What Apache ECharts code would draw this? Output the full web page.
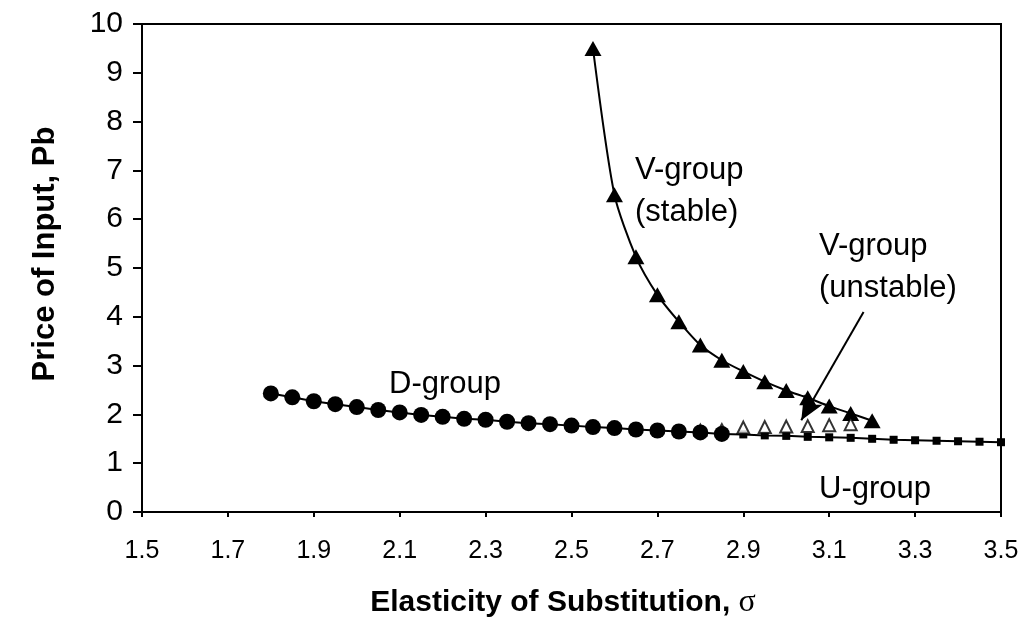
<!DOCTYPE html>
<html>
<head>
<meta charset="utf-8">
<script src="https://cdn.jsdelivr.net/npm/echarts@6/dist/echarts.min.js"></script>
<style>
  html, body { margin: 0; padding: 0; background: #fff; }
  #output { width: 1029px; height: 635px; }
</style>
</head>
<body>
<div id="output"></div>
<script>
const chart = echarts.init(document.getElementById('output'))

// sigma values and Pb
const dX = [1.8, 1.85, 1.9, 1.95, 2.0, 2.05, 2.1, 2.15, 2.2, 2.25, 2.3, 2.35, 2.4, 2.45, 2.5, 2.55, 2.6, 2.65, 2.7, 2.75, 2.8, 2.85]
const dY = [2.43, 2.35, 2.27, 2.21, 2.15, 2.09, 2.04, 1.99, 1.95, 1.91, 1.89, 1.85, 1.82, 1.80, 1.77, 1.74, 1.72, 1.69, 1.67, 1.65, 1.63, 1.60]

const uX = [2.85, 2.9, 2.95, 3.0, 3.05, 3.1, 3.15, 3.2, 3.25, 3.3, 3.35, 3.4, 3.45, 3.5]
const uY = [1.60, 1.59, 1.57, 1.56, 1.54, 1.53, 1.52, 1.50, 1.48, 1.47, 1.46, 1.45, 1.44, 1.43]

const vStableX = [2.55, 2.6, 2.65, 2.7, 2.75, 2.8, 2.85, 2.9, 2.95, 3.0, 3.05, 3.1, 3.15, 3.2]
const vStableY = [9.5, 6.5, 5.23, 4.45, 3.9, 3.42, 3.11, 2.88, 2.67, 2.49, 2.34, 2.17, 2.02, 1.87]

const vJoinX = [2.8, 2.85]
const vJoinY = [1.69, 1.70]

const vUnstableX = [2.9, 2.95, 3.0, 3.05, 3.1, 3.15]
const vUnstableY = [1.73, 1.74, 1.75, 1.76, 1.78, 1.80]

const xTicks = { min: 1.5, max: 3.5, step: 0.2 }
const yTicks = { min: 0, max: 10, step: 1 }

// annotation arrow, in data units
const arrowFrom = [3.18, 4.1]
const arrowTo = [3.035, 1.88]

const zip = (xs, ys) => xs.map((x, i) => [x, ys[i]])

const font = '"Liberation Sans", Arial, sans-serif'

function note (text, left, top) {
  return {
    type: 'text',
    left,
    top,
    style: { text, font: '31px ' + font, fill: '#000', lineHeight: 42 }
  }
}

chart.setOption({
  animation: false,
  grid: {
    left: 142,
    right: 28,
    top: 24,
    bottom: 123,
    show: true,
    borderColor: '#000',
    borderWidth: 2
  },
  xAxis: {
    type: 'value',
    min: xTicks.min,
    max: xTicks.max,
    interval: xTicks.step,
    axisLine: { onZero: false, lineStyle: { color: '#000', width: 2 } },
    axisTick: { length: 5, lineStyle: { color: '#000', width: 2 } },
    axisLabel: {
      color: '#000',
      fontFamily: font,
      fontSize: 25,
      margin: 27,
      formatter: v => v.toFixed(1)
    },
    splitLine: { show: false }
  },
  yAxis: {
    type: 'value',
    min: yTicks.min,
    max: yTicks.max,
    interval: yTicks.step,
    axisLine: { show: true, lineStyle: { color: '#000', width: 2 } },
    axisTick: { show: true, length: 9, lineStyle: { color: '#000', width: 2 } },
    axisLabel: { color: '#000', fontFamily: font, fontSize: 30, margin: 19 },
    splitLine: { show: false }
  },
  graphic: [
    note('D-group', 389, 363),
    note('V-group\n(stable)', 635, 149),
    note('V-group\n(unstable)', 819, 225),
    note('U-group', 819, 468),
    {
      type: 'text',
      x: 563,
      y: 603,
      style: {
        text: '{b|Elasticity of Substitution, }{s|σ}',
        fill: '#000',
        align: 'center',
        verticalAlign: 'middle',
        rich: {
          b: { fontFamily: font, fontWeight: 'bold', fontSize: 30, fill: '#000' },
          s: { fontFamily: '"Liberation Serif", "DejaVu Serif", serif', fontSize: 32, fill: '#000' }
        }
      }
    },
    {
      type: 'text',
      x: 45,
      y: 254,
      rotation: Math.PI / 2,
      style: {
        text: 'Price of Input, Pb',
        font: 'bold 31px ' + font,
        fill: '#000',
        align: 'center',
        verticalAlign: 'middle'
      }
    }
  ],
  series: [
    {
      name: 'U-group',
      type: 'line',
      data: zip(uX, uY),
      symbol: 'rect',
      symbolSize: 8,
      itemStyle: { color: '#000' },
      lineStyle: { color: '#000', width: 2 },
      z: 2
    },
    {
      name: 'V-group (stable)',
      type: 'line',
      smooth: 0.25,
      data: zip(vStableX, vStableY),
      symbol: 'triangle',
      symbolSize: [17, 15],
      itemStyle: { color: '#000' },
      lineStyle: { color: '#000', width: 2 },
      z: 3
    },
    {
      name: 'V-group (unstable)',
      type: 'scatter',
      data: zip(vUnstableX, vUnstableY),
      symbol: 'triangle',
      symbolSize: [12, 12],
      itemStyle: { color: '#fff', borderColor: '#000', borderWidth: 2 },
      z: 4,
      markLine: {
        silent: true,
        symbol: ['none', 'arrow'],
        symbolSize: [16, 24],
        label: { show: false },
        lineStyle: { color: '#000', width: 2, type: 'solid' },
        data: [[{ coord: arrowFrom }, { coord: arrowTo }]]
      }
    },
    {
      name: 'V-group join',
      type: 'scatter',
      data: zip(vJoinX, vJoinY),
      symbol: 'triangle',
      symbolSize: [15, 14],
      itemStyle: { color: '#000' },
      z: 4
    },
    {
      name: 'D-group',
      type: 'line',
      data: zip(dX, dY),
      symbol: 'circle',
      symbolSize: 16,
      itemStyle: { color: '#000' },
      lineStyle: { color: '#000', width: 2 },
      z: 5
    }
  ]
})
</script>
</body>
</html>
